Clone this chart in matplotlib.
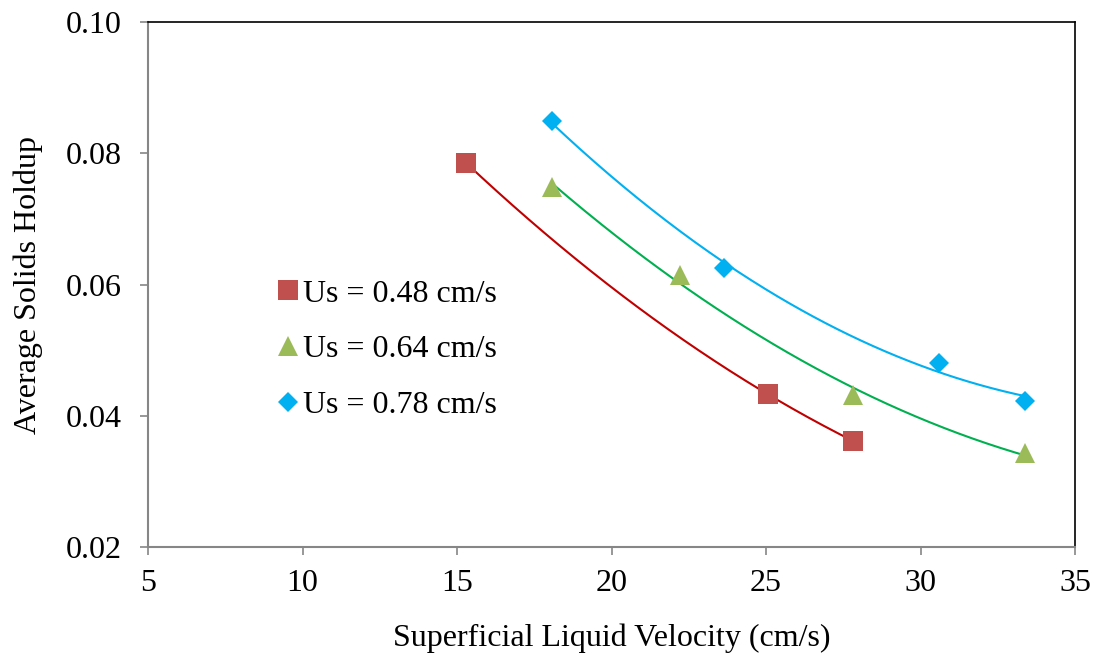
import numpy as np
import matplotlib
matplotlib.use("Agg")
import matplotlib.pyplot as plt

# data
ul_048 = [15.3, 25.05, 27.8]
hold_048 = [0.0785, 0.0433, 0.0362]

ul_064 = [18.07, 22.22, 27.82, 33.38]
hold_064 = [0.0749, 0.0614, 0.0432, 0.0343]

ul_078 = [18.07, 23.64, 30.6, 33.38]
hold_078 = [0.0849, 0.0625, 0.0480, 0.0422]

labels = ["Us = 0.48 cm/s", "Us = 0.64 cm/s", "Us = 0.78 cm/s"]
x_ticks = [5, 10, 15, 20, 25, 30, 35]
y_ticks = [0.02, 0.04, 0.06, 0.08, 0.10]

plt.rcParams['font.family'] = ['Liberation Serif', 'DejaVu Serif']
grey = '#868686'

fig = plt.figure(figsize=(10.95, 6.55), dpi=100)
ax = fig.add_axes([148 / 1095, 1 - 547 / 655, 927 / 1095, 525 / 655])

series = [
    (ul_048, hold_048, 's', '#C0504D', '#C00000', 14),
    (ul_064, hold_064, '^', '#9BBB59', '#00B050', 14.5),
    (ul_078, hold_078, 'D', '#00B0F0', '#00B0F0', 10),
]

for (x, y, mk, mcol, lcol, ms), lab in zip(series, labels):
    # polynomial trendline, like the spreadsheet one
    coef = np.polyfit(x, y, 2)
    xs = np.linspace(min(x), max(x), 200)
    ax.plot(xs, np.polyval(coef, xs), color=lcol, lw=1.5, zorder=2)
    ax.plot(x, y, linestyle='none', marker=mk, markersize=ms, color=mcol,
            markeredgewidth=0, label=lab, zorder=3)

ax.set_xlim(5, 35)
ax.set_ylim(0.02, 0.10)
ax.set_xticks(x_ticks)
ax.set_yticks(y_ticks)
ax.set_yticklabels(['%.2f' % v for v in y_ticks])
ax.tick_params(axis='both', labelsize=23, color=grey, length=6, width=1.2, direction='out')
ax.tick_params(axis='x', pad=10)
ax.tick_params(axis='y', pad=13)

for side in ['left', 'bottom']:
    ax.spines[side].set_color(grey)
    ax.spines[side].set_linewidth(1.5)
for side in ['top', 'right']:
    ax.spines[side].set_color('black')
    ax.spines[side].set_linewidth(1.2)

ax.set_xlabel('Superficial Liquid Velocity (cm/s)', fontsize=23, labelpad=18)
ax.set_ylabel('Average Solids Holdup', fontsize=23, labelpad=16)

ax.legend(loc='upper left', bbox_to_anchor=(0.141, 0.51), frameon=False,
          fontsize=23, handlelength=0.6, handletextpad=0.15, labelspacing=0.82,
          borderpad=0, borderaxespad=0)

fig.savefig('out.png', dpi=100)
